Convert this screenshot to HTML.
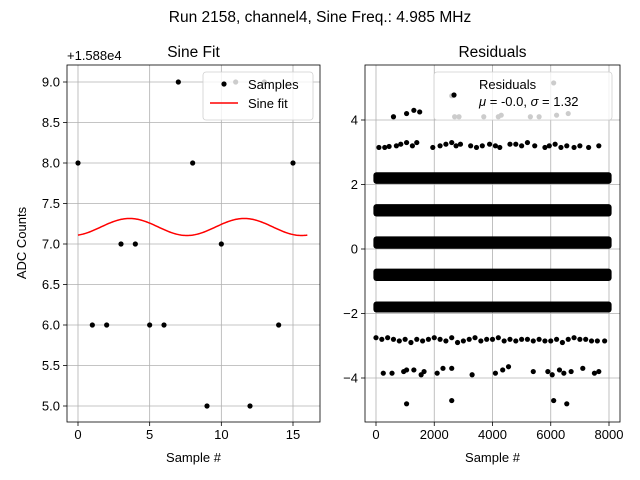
<!DOCTYPE html>
<html><head><meta charset="utf-8"><style>
body{margin:0;background:#fff}
svg{display:block;font-family:"Liberation Sans","DejaVu Sans",sans-serif}
</style></head><body>
<svg id="c" width="640" height="480" viewBox="0 0 640 480">
<rect width="640" height="480" fill="#fff"/>
<text x="320" y="22" font-size="15.5" text-anchor="middle">Run 2158, channel4, Sine Freq.: 4.985 MHz</text>
<g id="L"></g>
<g id="R"></g>
</svg>
<script>
// ---- left chart data ----
const sampleX = [0,1,2,3,4,5,6,7,8,9,10,11,12,13,14,15];
const sampleY = [8,6,6,7,7,6,6,9,8,5,7,9,5,9,6,8];
const fitParams = [7.21, 0.105, 8, 0.4]; // mean, amplitude, period, phase
const fitRange = [0,16];
const leftYTicks = [5.0,5.5,6.0,6.5,7.0,7.5,8.0,8.5,9.0];
const leftXTicks = [0,5,10,15];
// ---- right chart data ----
const denseLevels = [-1.8,-0.8,0.2,1.2,2.2];
const denseHalf = [0.09,0.11,0.11,0.11,0.1];
const rowUpX = [100,300,450,700,850,1050,1250,1400,1950,2200,2400,2600,2750,2900,3250,3450,3650,3900,4100,4250,4600,4800,5000,5200,5450,5800,5950,6150,6350,6550,6800,7000,7300,7650];
const rowUpY = [3.15,3.15,3.18,3.2,3.25,3.3,3.2,3.3,3.15,3.2,3.25,3.3,3.2,3.25,3.2,3.15,3.2,3.25,3.2,3.15,3.25,3.25,3.2,3.3,3.2,3.15,3.2,3.25,3.15,3.2,3.15,3.2,3.15,3.2];
const rowDnX = [0,200,400,600,800,1000,1200,1400,1600,1800,2000,2200,2400,2600,2800,3000,3200,3400,3600,3800,4000,4200,4400,4600,4800,5000,5200,5400,5600,5800,6000,6200,6400,6600,6800,7000,7200,7400,7600,7850];
const rowDnY = [-2.75,-2.8,-2.75,-2.8,-2.85,-2.8,-2.9,-2.8,-2.85,-2.8,-2.75,-2.8,-2.85,-2.75,-2.9,-2.85,-2.8,-2.75,-2.85,-2.8,-2.8,-2.75,-2.85,-2.8,-2.85,-2.8,-2.8,-2.85,-2.8,-2.85,-2.85,-2.8,-2.9,-2.8,-2.75,-2.8,-2.8,-2.85,-2.85,-2.85];
const sparseX = [250,550,950,1050,1300,1550,1650,2100,2300,2600,3300,4100,4350,4550,5400,5900,6050,6300,6450,6700,7100,7500,7650,1050,2600,6100,6550,600,1050,1300,1500,2600,6100,2700,2850,3700,4200,4300,5300,5600,6200,6600];
const sparseY = [-3.85,-3.85,-3.8,-3.75,-3.75,-3.9,-3.8,-3.85,-3.7,-3.7,-3.9,-3.85,-3.75,-3.65,-3.8,-3.8,-3.9,-3.75,-3.85,-3.8,-3.7,-3.85,-3.8,-4.8,-4.7,-4.7,-4.8,4.1,4.2,4.3,4.25,4.75,5.15,4.1,4.1,4.1,4.1,4.15,4.1,4.1,4.15,4.2];
const rightYTicks = [-4,-2,0,2,4];
const rightXTicks = [0,2000,4000,6000,8000];

const NS="http://www.w3.org/2000/svg";
function mk(parent,tag,attrs,text){const e=document.createElementNS(NS,tag);for(const k in attrs)e.setAttribute(k,attrs[k]);if(text!==undefined)e.textContent=text;parent.appendChild(e);return e;}

// Left panel
const L=document.getElementById('L');
const lx0=67,lx1=320,ly0=65,ly1=422;
const lsx=v=>78+(v-0)*(293-78)/15;
const lsy=v=>406-(v-5)*(406-82)/4;
let g;
for(const t of leftXTicks){
  g=mk(L,'line',{x1:lsx(t),x2:lsx(t),y1:ly0,y2:ly1,stroke:'#b0b0b0','stroke-width':0.8});
  
  mk(L,'line',{x1:lsx(t),x2:lsx(t),y1:ly1,y2:ly1+4,stroke:'#000','stroke-width':0.8});
  g=mk(L,'text',{x:lsx(t),y:ly1+17,'font-size':13,'text-anchor':'middle'},String(t));
  
}
for(const t of leftYTicks){
  g=mk(L,'line',{x1:lx0,x2:lx1,y1:lsy(t),y2:lsy(t),stroke:'#b0b0b0','stroke-width':0.8});
  
  mk(L,'line',{x1:lx0-4,x2:lx0,y1:lsy(t),y2:lsy(t),stroke:'#000','stroke-width':0.8});
  g=mk(L,'text',{x:lx0-7,y:lsy(t)+4.5,'font-size':13,'text-anchor':'end'},t.toFixed(1));
  
}
for(let i=0;i<sampleX.length;i++){
  g=mk(L,'circle',{cx:lsx(sampleX[i]),cy:lsy(sampleY[i]),r:2.6,fill:'#000'});
  
}
let d='';
for(let k=0;k<=200;k++){const x=fitRange[0]+(fitRange[1]-fitRange[0])*k/200;
  const y=fitParams[0]-fitParams[1]*Math.cos(2*Math.PI*(x+fitParams[3])/fitParams[2]);
  d+=(k?'L':'M')+lsx(x).toFixed(2)+','+lsy(y).toFixed(2);}
g=mk(L,'path',{d:d,fill:'none',stroke:'#ff0000','stroke-width':1.5});

mk(L,'rect',{x:lx0,y:ly0,width:lx1-lx0,height:ly1-ly0,fill:'none',stroke:'#000','stroke-width':0.8});
g=mk(L,'text',{x:67,y:60,'font-size':13},'+1.588e4');

g=mk(L,'text',{x:193.5,y:57,'font-size':15.5,'text-anchor':'middle'},'Sine Fit');

g=mk(L,'text',{x:193.5,y:462,'font-size':13,'text-anchor':'middle'},'Sample #');

g=mk(L,'text',{x:26,y:243,'font-size':13,'text-anchor':'middle',transform:'rotate(-90 26 243)'},'ADC Counts');

const lg=mk(L,'g',{});

mk(lg,'rect',{x:203,y:72,width:110,height:48,rx:3,fill:'#fff','fill-opacity':0.8,stroke:'#d0d0d0','stroke-width':0.8});
mk(lg,'circle',{cx:224,cy:84,r:2.6,fill:'#000'});
mk(lg,'text',{x:248,y:89,'font-size':13},'Samples');
mk(lg,'line',{x1:210,x2:238,y1:103,y2:103,stroke:'#ff0000','stroke-width':1.5});
mk(lg,'text',{x:248,y:108,'font-size':13},'Sine fit');

// Right panel
const R=document.getElementById('R');
const rx0=365,rx1=620,ry0=65,ry1=422;
const rsx=v=>376+v*(609-376)/8000;
const rsy=v=>249-v*(249-120)/4;
for(const t of rightXTicks){
  g=mk(R,'line',{x1:rsx(t),x2:rsx(t),y1:ry0,y2:ry1,stroke:'#b0b0b0','stroke-width':0.8});
  
  mk(R,'line',{x1:rsx(t),x2:rsx(t),y1:ry1,y2:ry1+4,stroke:'#000','stroke-width':0.8});
  g=mk(R,'text',{x:rsx(t),y:ry1+17,'font-size':13,'text-anchor':'middle'},String(t));
  
}
for(const t of rightYTicks){
  g=mk(R,'line',{x1:rx0,x2:rx1,y1:rsy(t),y2:rsy(t),stroke:'#b0b0b0','stroke-width':0.8});
  
  mk(R,'line',{x1:rx0-4,x2:rx0,y1:rsy(t),y2:rsy(t),stroke:'#000','stroke-width':0.8});
  g=mk(R,'text',{x:rx0-7,y:rsy(t)+4.5,'font-size':13,'text-anchor':'end'},(t<0?'\u2212':'')+Math.abs(t));
  
}
for(let i=0;i<denseLevels.length;i++){
  const y0=rsy(denseLevels[i]+denseHalf[i]),y1=rsy(denseLevels[i]-denseHalf[i]);
  g=mk(R,'rect',{x:rsx(0)-2.6,y:y0-2.6,width:rsx(8000)-rsx(0)+5.2,height:y1-y0+5.2,rx:3,fill:'#000'});
  
}
function pts(xs,ys){for(let i=0;i<xs.length;i++){
  g=mk(R,'circle',{cx:rsx(xs[i]),cy:rsy(ys[i]),r:2.6,fill:'#000'});
  }}
pts(rowUpX,rowUpY);pts(rowDnX,rowDnY);pts(sparseX,sparseY);
mk(R,'rect',{x:rx0,y:ry0,width:rx1-rx0,height:ry1-ry0,fill:'none',stroke:'#000','stroke-width':0.8});
g=mk(R,'text',{x:492.5,y:57,'font-size':15.5,'text-anchor':'middle'},'Residuals');

g=mk(R,'text',{x:492.5,y:462,'font-size':13,'text-anchor':'middle'},'Sample #');

const rg=mk(R,'g',{});

mk(rg,'rect',{x:434,y:72,width:178,height:48,rx:3,fill:'#fff','fill-opacity':0.8,stroke:'#d0d0d0','stroke-width':0.8});
mk(rg,'circle',{cx:454,cy:95,r:2.6,fill:'#000'});
mk(rg,'text',{x:479,y:89,'font-size':13},'Residuals');
const st=mk(rg,'text',{x:479,y:106,'font-size':13});
mk(st,'tspan',{'font-style':'italic'},'\u03bc');
mk(st,'tspan',{},' = -0.0, ');
mk(st,'tspan',{'font-style':'italic'},'\u03c3');
mk(st,'tspan',{},' = 1.32');
</script>
</body></html>
